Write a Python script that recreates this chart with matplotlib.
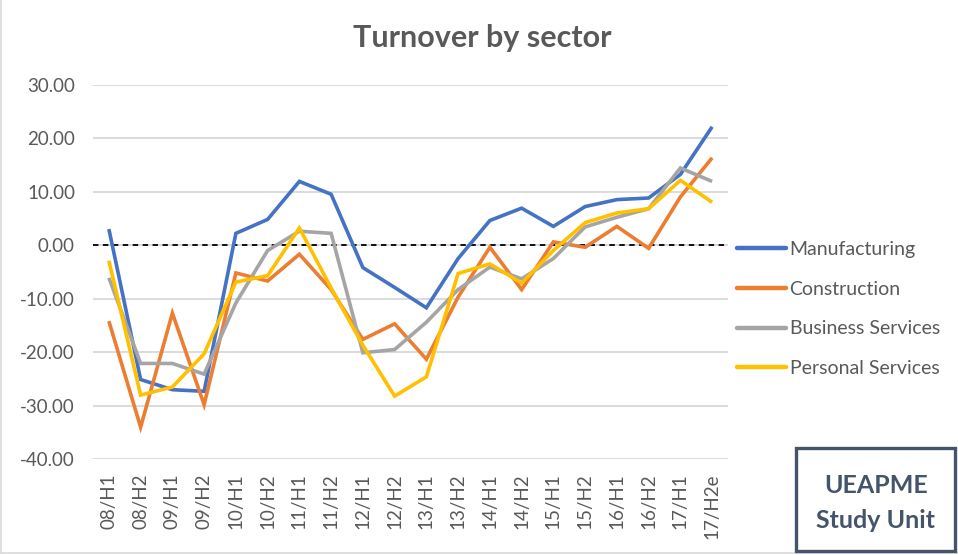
import matplotlib
matplotlib.use("Agg")
import matplotlib.pyplot as plt
from matplotlib.lines import Line2D
from matplotlib.patches import Rectangle

plt.rcParams['font.family'] = ['Lato', 'DejaVu Sans']

categories = ["08/H1", "08/H2", "09/H1", "09/H2", "10/H1", "10/H2", "11/H1", "11/H2",
              "12/H1", "12/H2", "13/H1", "13/H2", "14/H1", "14/H2", "15/H1", "15/H2",
              "16/H1", "16/H2", "17/H1", "17/H2e"]

manufacturing = [3.0, -25.1, -27.0, -27.3, 2.2, 4.8, 11.9, 9.5, -4.2, -7.9,
                 -11.7, -2.5, 4.6, 6.9, 3.5, 7.2, 8.5, 8.8, 13.2, 22.1]
construction = [-14.2, -34.0, -12.7, -29.8, -5.2, -6.7, -1.7, -8.3, -17.6, -14.7,
                -21.3, -9.7, -0.4, -8.3, 0.6, -0.4, 3.5, -0.6, 9.0, 16.3]
business = [-6.1, -22.1, -22.1, -24.1, -10.8, -1.0, 2.6, 2.2, -20.1, -19.5,
            -14.4, -8.3, -4.1, -6.3, -2.5, 3.4, 5.2, 6.8, 14.4, 11.9]
personal = [-2.9, -28.0, -26.5, -20.3, -6.9, -5.7, 3.2, -8.0, -18.7, -28.2,
            -24.6, -5.3, -3.5, -7.1, -1.0, 4.2, 6.0, 6.8, 12.1, 8.0]

series = [("Manufacturing", manufacturing, "#4472C4"),
          ("Construction", construction, "#ED7D31"),
          ("Business Services", business, "#A5A5A5"),
          ("Personal Services", personal, "#FFC000")]

yticks = [30, 20, 10, 0, -10, -20, -30, -40]

W, H = 958, 555
fig = plt.figure(figsize=(W / 100, H / 100), dpi=100)
fig.patch.set_facecolor("white")

ax = fig.add_axes([93 / W, 1 - 459.3 / H, (728 - 93) / W, (459.3 - 84.5) / H])
x = list(range(len(categories)))

ax.set_ylim(-40, 30)
ax.set_xlim(-0.5, len(categories) - 0.5)
ax.set_yticks(yticks)
ax.set_yticklabels([f"{v:.2f}" for v in yticks])
ax.grid(axis="y", color="#D9D9D9", linewidth=1.3, zorder=0)
ax.set_axisbelow(True)
for s in ax.spines.values():
    s.set_visible(False)
ax.tick_params(axis="both", length=0, colors="#595959", labelsize=13.5)
ax.tick_params(axis="y", pad=13)
ax.set_xticks(x)
ax.set_xticklabels(categories, rotation=90, va="top")
ax.tick_params(axis="x", pad=10)

ax.axhline(0, color="black", linestyle=(0, (3, 2.5)), linewidth=1.3, zorder=2)

for name, vals, col in series:
    ax.plot(x, vals, color=col, linewidth=2.6, solid_joinstyle="miter",
            solid_capstyle="butt", zorder=3, label=name)

leg_handles = [Line2D([0], [0], color=c, linewidth=3.2, solid_capstyle="round")
               for _, _, c in series]
fig.legend(leg_handles, [n for n, _, _ in series], loc="center left",
           bbox_to_anchor=(737 / W, 1 - 309 / H), frameon=False,
           fontsize=14, labelcolor="#595959", handlelength=2.5,
           handletextpad=0.2, labelspacing=1.17, borderpad=0, borderaxespad=0)

fig.text(482.7 / W, 1 - 47.3 / H, "Turnover by sector", ha="center", va="baseline",
         fontsize=22, fontweight="bold", color="#595959")

# chart area border (left and bottom visible)
fig.add_artist(Line2D([1 / W, 1 / W], [1 - 553 / H, 1], color="#D9D9D9",
                      linewidth=1.2, transform=fig.transFigure))
fig.add_artist(Line2D([1 / W, 1], [1 - 553 / H, 1 - 553 / H], color="#D9D9D9",
                      linewidth=1.2, transform=fig.transFigure))

# UEAPME box
fig.add_artist(Rectangle((796 / W, 1 - 551 / H), (955 - 796) / W, (551 - 448) / H,
                         transform=fig.transFigure, facecolor="white",
                         edgecolor="#44546A", linewidth=2.4, zorder=5))
fig.text(876 / W, 1 - 493.3 / H, "UEAPME", ha="center", va="baseline",
         fontsize=18, fontweight="bold", color="#44546A", zorder=6)
fig.text(876 / W, 1 - 528.3 / H, "Study Unit", ha="center", va="baseline",
         fontsize=18, fontweight="bold", color="#44546A", zorder=6)

fig.savefig("out.png", dpi=100)
